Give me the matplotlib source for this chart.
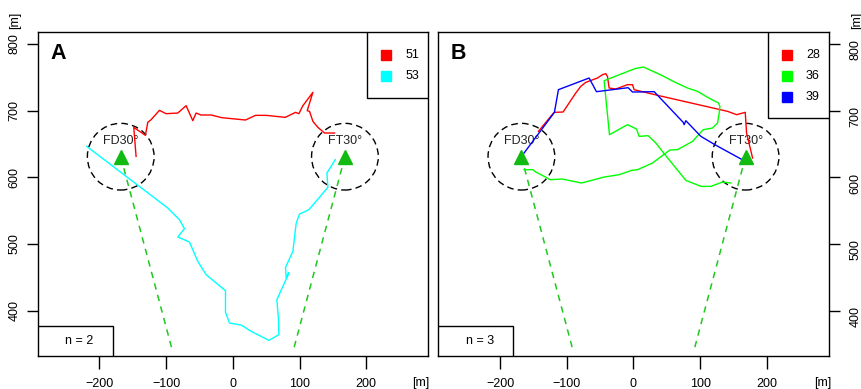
import matplotlib
matplotlib.use("Agg")
import matplotlib.pyplot as plt
from matplotlib.patches import Circle, Rectangle

plt.rcParams["font.family"] = ["Liberation Sans", "DejaVu Sans"]

# station positions [m]
STATIONS = {"FD30°": (-168, 631), "FT30°": (168, 631)}
# end points of the dashed view lines
VIEW_ENDS = {"FD30°": (-90, 338), "FT30°": (90, 338)}
CIRCLE_R = 50

# panel A tracks
a51_x = [-145, -148.5, -131, -127.5, -122.5, -110, -100, -82.5, -70, -60, -55, -47.5,
         -32.5, -16.5, 19, 34, 50, 78.5, 94, 99, 105, 120, 111.5, 115, 120, 127.5, 137.5, 152.5]
a51_y = [631.5, 675, 663, 682.5, 686.5, 700.5, 695.5, 696.5, 707.5, 685, 696.5, 693.5,
         693.5, 689.5, 686, 693, 693, 690, 697.5, 695.5, 707.5, 727.5, 700, 699, 684, 675, 666.5, 666.5]
a53_x = [-219, -97.5, -80, -72.5, -82.5, -65, -52.5, -40, -11, -11, -5, 12.5, 27.5, 54,
         69, 68.5, 66, 82, 84, 80, 79, 90, 95, 100, 114, 142.5, 141, 153.5]
a53_y = [646.5, 554, 536.5, 523, 510.5, 503, 474, 454, 430, 397.5, 381.5, 378.5, 369, 355.5,
         364, 386.5, 416.5, 452, 457, 449, 465, 489, 531.5, 545, 551.5, 585, 606.5, 626.5]

# panel B tracks
b28_x = [-142.5, -119, -105.5, -86.5, -79, -71.5, -54, -46.5, -41.5, -39, -36.5, -26.5,
         -9, -1.5, 1, 38.5, 141, 154.5, 167.5, 169.5, 178.5]
b28_y = [669, 697.5, 698, 726.5, 736.5, 742.5, 749, 754, 755.5, 751.5, 734, 732.5,
         739, 739, 731.5, 722.5, 699, 694, 697.5, 666.5, 629]
b36_x = [-164, -150.5, -146.5, -129, -125.5, -106.5, -78, -44, -21.5, -2.5, 6, 28.5, 54.5,
         66, 88.5, 104.5, 118.5, 126, 128.5, 129.5, 127.5, 117.5, 108.5, 96, 81, 59.5, 43.5,
         15, 2, -44, -36, -9, 4.5, 8.5, 22, 33.5, 46, 78.5, 101, 116, 133.5, 146]
b36_y = [611.5, 611.5, 608, 599, 596.5, 597.5, 591.5, 600.5, 604, 610.5, 611.5, 621.5, 641,
         641.5, 654, 671.5, 674, 681.5, 696.5, 706.5, 711.5, 716.5, 721.5, 729, 734, 744, 752.5,
         765.5, 763, 745, 664, 679, 672.5, 661.5, 662.5, 651.5, 635.5, 595.5, 586.5, 586.5, 593, 591.5]
b39_x = [-164, -118.5, -112.5, -66.5, -55.5, -8, -1.5, 31, 74.5, 76, 78.5, 101, 122, 163]
b39_y = [636.5, 697.5, 731.5, 749, 728.5, 734.5, 728, 728.5, 682.5, 679, 685, 661.5, 649, 626.5]

PANELS = [
    {"letter": "A", "n": 2, "tracks": [("51", "#FF0000", a51_x, a51_y),
                                       ("53", "#00FFFF", a53_x, a53_y)]},
    {"letter": "B", "n": 3, "tracks": [("28", "#FF0000", b28_x, b28_y),
                                       ("36", "#00FF00", b36_x, b36_y),
                                       ("39", "#0000FF", b39_x, b39_y)]},
]

XLIM = (-292.5, 292.5)
YLIM = (332.5, 818)
FS = 9

fig = plt.figure(figsize=(8.62, 3.89), dpi=100)
positions = [[0.0437, 0.0856, 0.4528, 0.8321], [0.5085, 0.0856, 0.4528, 0.8321]]

for i, (panel, pos) in enumerate(zip(PANELS, positions)):
    ax = fig.add_axes(pos)
    ax.set_xlim(*XLIM)
    ax.set_ylim(*YLIM)
    for sp in ax.spines.values():
        sp.set_linewidth(1.0)

    # station circles, view lines and markers
    for name, (sx, sy) in STATIONS.items():
        ax.add_patch(Circle((sx, sy), CIRCLE_R, fill=False, edgecolor="black",
                            lw=1.0, linestyle=(0, (4.8, 3.0)), zorder=2))
        ex, ey = VIEW_ENDS[name]
        ax.plot([sx, ex], [sy, ey], color="#1EC81E", lw=1.1,
                linestyle=(0, (4.2, 3.6)), zorder=2)
        ax.text(sx, 654, name, ha="center", va="center", fontsize=FS, color="#222222", zorder=3)

    for label, color, xs, ys in panel["tracks"]:
        ax.plot(xs, ys, color=color, lw=1.0, zorder=4)

    for name, (sx, sy) in STATIONS.items():
        ax.plot(sx, sy, marker="^", ms=9.5, color="#11BB11", zorder=5)

    # legend box
    top = 719 if len(panel["tracks"]) == 2 else 689
    ax.add_patch(Rectangle((201.6, top), XLIM[1] - 201.6, YLIM[1] - top, facecolor="white",
                           edgecolor="black", lw=1.0, zorder=6))
    for k, (label, color, xs, ys) in enumerate(panel["tracks"]):
        ry = 784 - k * 31.5
        ax.plot(230, ry, marker="s", ms=7.2, color=color, mec=color, zorder=7)
        ax.text(258.6, ry, label, ha="left", va="center", fontsize=FS, zorder=7)

    # n box
    ax.add_patch(Rectangle((XLIM[0], YLIM[0]), -180 - XLIM[0], 376.5 - YLIM[0],
                           facecolor="white", edgecolor="black", lw=1.0, zorder=6))
    ax.text(-230, 354, f"n = {panel['n']}", ha="center", va="center", fontsize=FS, zorder=7)

    ax.text(-262, 786.5, panel["letter"], ha="center", va="center", fontsize=15.5,
            fontweight="bold", zorder=7)

    ax.set_xticks([-200, -100, 0, 100, 200])
    ax.set_yticks([400, 500, 600, 700, 800])
    ax.tick_params(axis="x", length=9, width=1.0, labelsize=FS, pad=7)
    ax.tick_params(axis="y", length=8, width=1.0, labelsize=FS, pad=4.5, labelrotation=90)
    for lab in ax.get_yticklabels():
        lab.set_va("center")
    if i == 1:
        ax.yaxis.tick_right()
        ax.tick_params(axis="y", pad=7)

# unit labels
fig.text(15 / 862, 1 - 20 / 389, "[m]", rotation=90, ha="center", va="center", fontsize=FS)
fig.text(857 / 862, 1 - 20 / 389, "[m]", rotation=90, ha="center", va="center", fontsize=FS)
fig.text(421 / 862, 1 - 383 / 389, "[m]", ha="center", va="center", fontsize=FS)
fig.text(823 / 862, 1 - 383 / 389, "[m]", ha="center", va="center", fontsize=FS)

fig.savefig("out.png", dpi=100)
